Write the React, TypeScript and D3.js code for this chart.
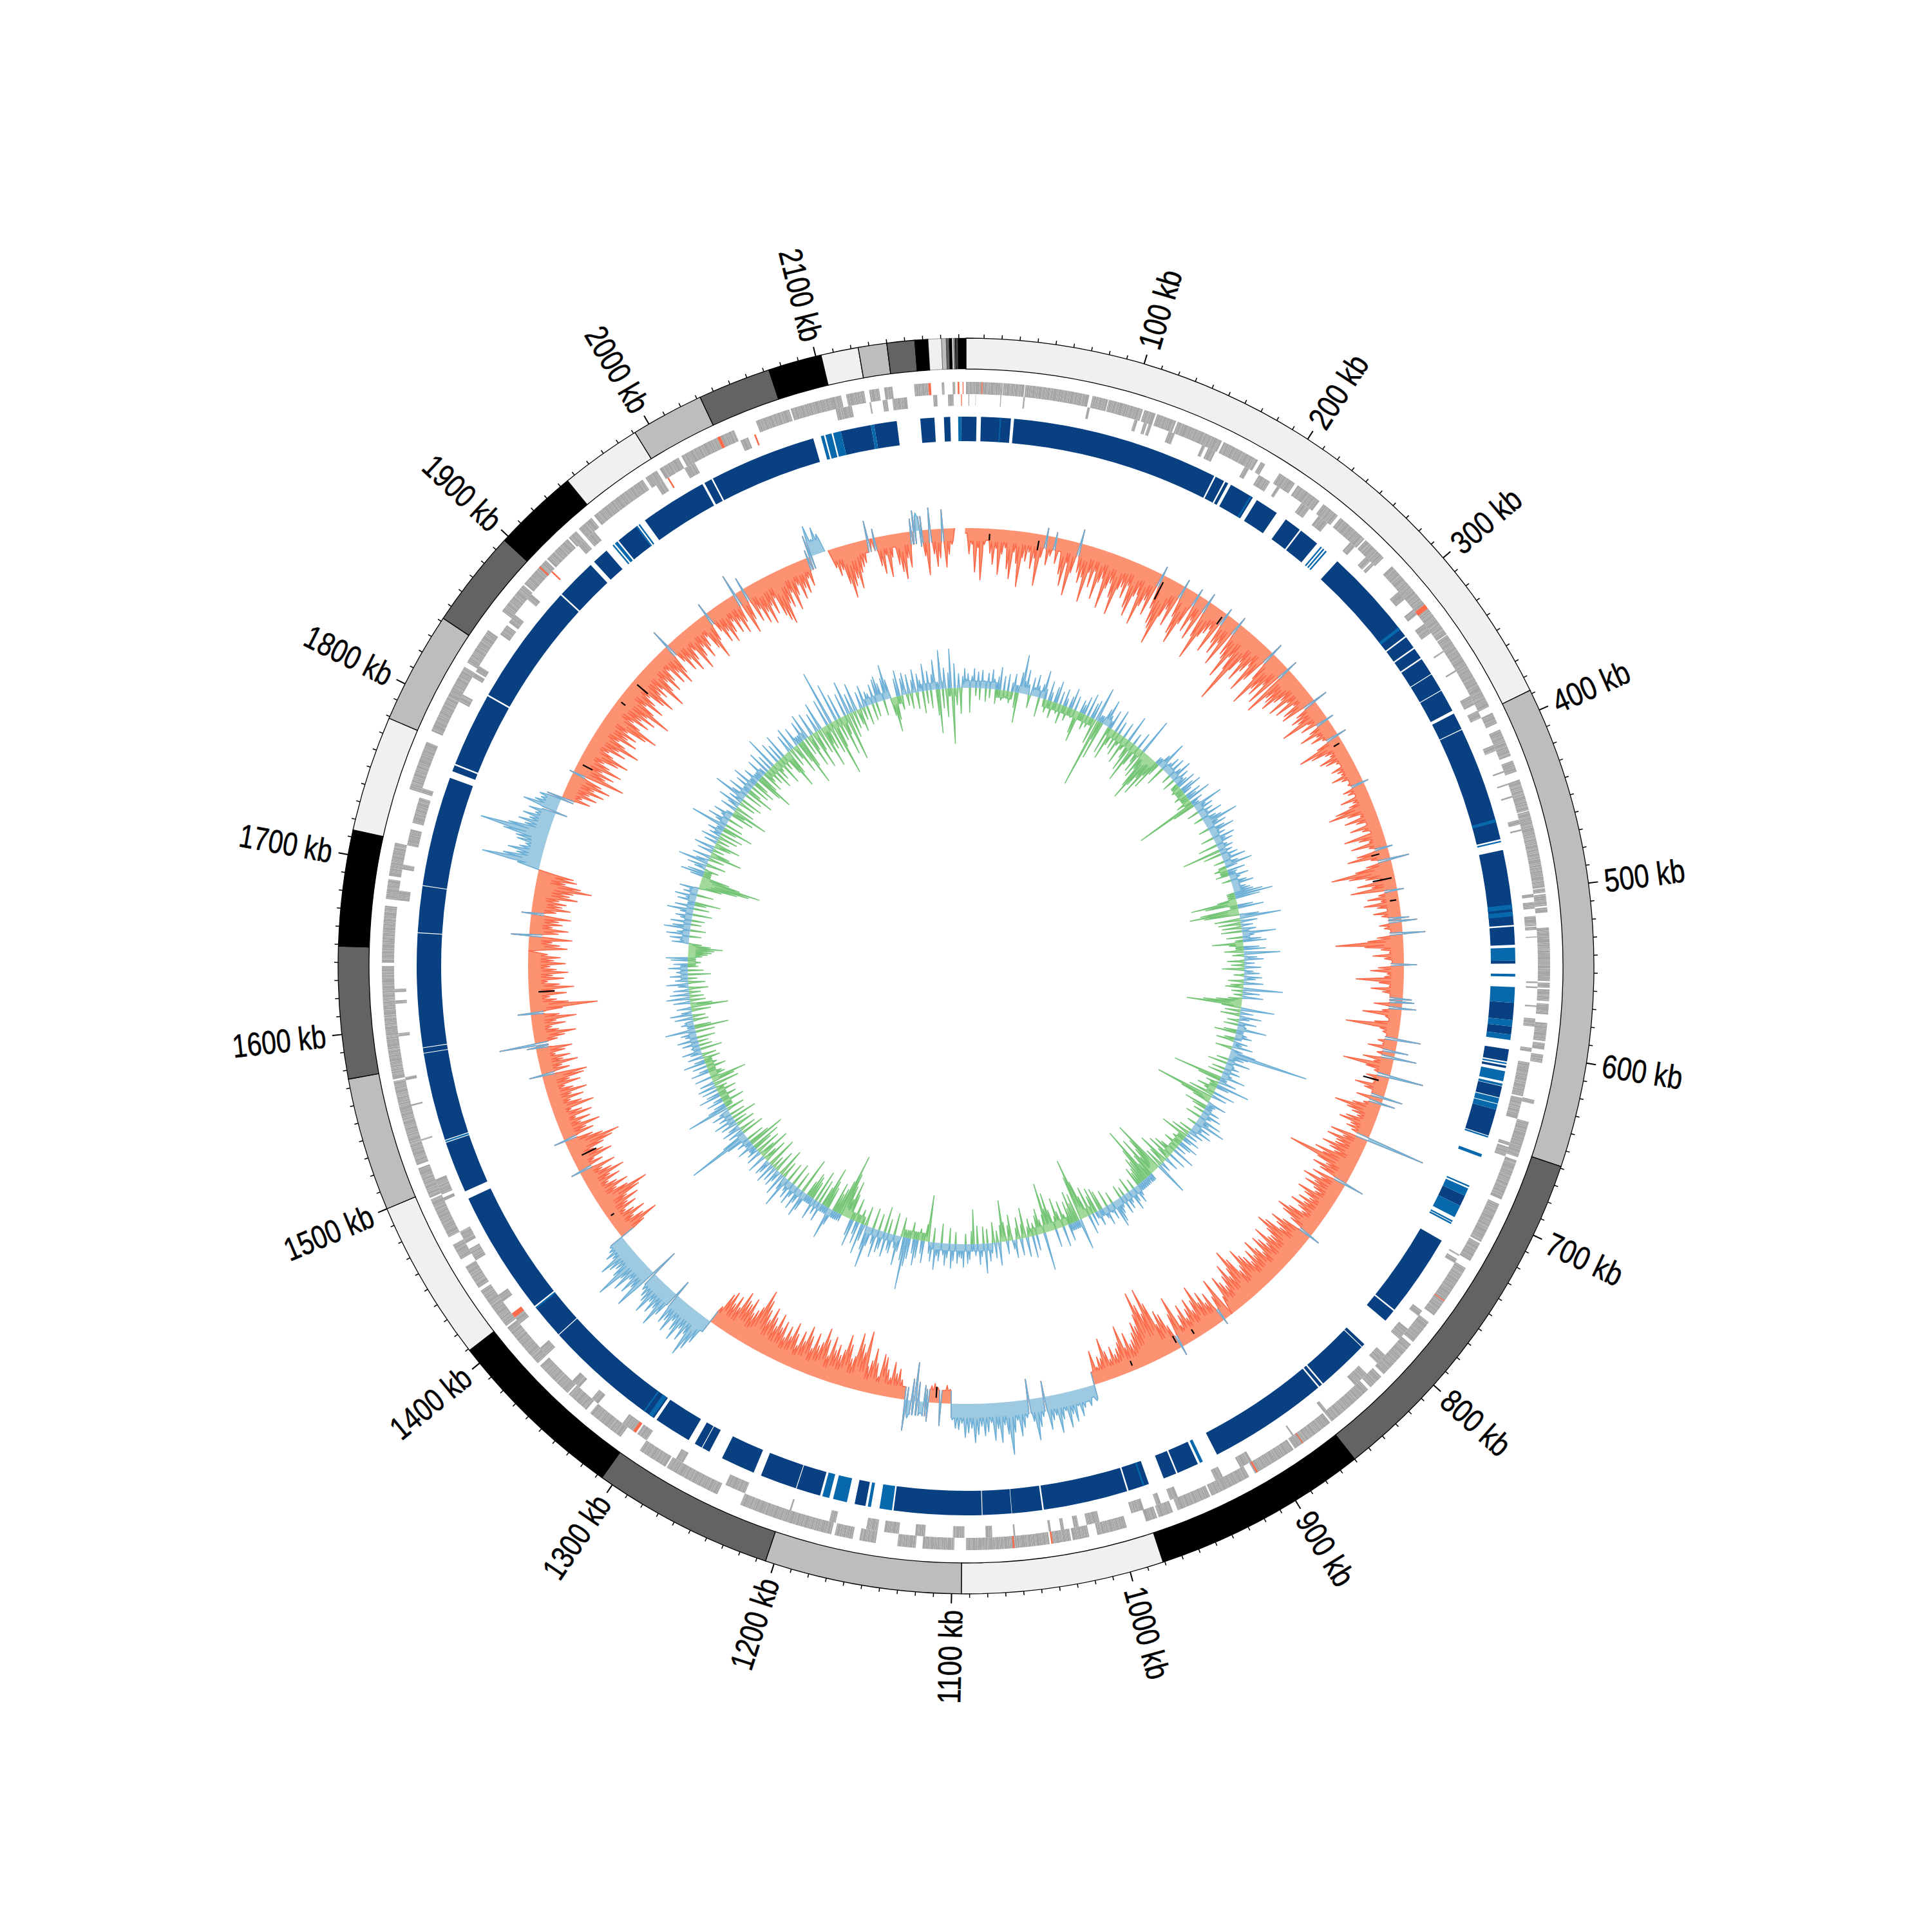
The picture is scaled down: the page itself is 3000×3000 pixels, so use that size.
import React from "react";
import * as d3 from "d3";

const GENOME_KB = 2184;
const contigEnds = [388,659,860,981,1094.6,1205,1307,1409,1500,1575,1649,1714,1779,1842,1897,1945,1991,2032,2073,2103,2124,2140,2155.6,2163,2170.4,2173,2174.6,2176.2,2177.1,2177.7,2178.2,2178.7,2179,2179.2,2179.5,2184];
const contigColors = ["#f0f0f0","#bdbdbd","#636363","#000000"];

const genesOuter: [number,number][] = [[0,9.3],[9.9,22],[22.3,35],[35.5,74],[76,85.5],[86,107],[108,115],[116,128],[129,157.7],[159,182],[184,187],[197,208],[210,226],[229,240],[242,261],[262,277],[284,310],[310,314],[317,336],[336.5,386],[390,397],[401,418],[421,428],[433,452],[452.5,499],[499.5,502],[503,510],[511,514],[523,555],[556,559],[560,567],[568.5,575],[580,591],[592,596],[599,604],[626.5,629],[640,650],[650,662],[664,689],[692,717],[718,730],[735,769],[774,789],[791,815],[817,826],[828,857],[858,884],[885,912],[916,941],[942,963],[966,975],[976,983],[995,1013],[1018,1028],[1029,1040],[1042,1092],[1099,1118],[1122,1133],[1146,1156],[1160,1171],[1173,1230],[1245,1279],[1280,1298],[1312,1335],[1338,1352],[1353,1376],[1378,1406],[1407,1426],[1426,1433],[1435,1450],[1455,1465],[1470,1495],[1496,1515],[1517,1569],[1570,1638],[1640,1674],[1678,1690],[1692,1698],[1698,1712],[1745,1775],[1782,1786],[1785,1805],[1805,1825],[1828,1851],[1865,1885],[1886,1905],[1906,1923],[1924,1930],[1932,1942],[1944,1980],[1982,1990],[1992,2005],[2007,2031],[2033,2042],[2056,2077],[2078,2103],[2103,2109],[2112,2123],[2126,2132],[2135,2140],[2153,2161.5],[2169.5,2171],[2176,2177.5]];
const genesInner: [number,number][] = [[1.5,2],[5.8,6],[21,21.5],[35,36],[74.5,76],[104,106],[110,112],[113,115],[126,130],[148,150],[152,157],[177,180],[187,195],[200,202],[218,224],[231,238],[256,260],[269,273],[274,276],[298,304],[312,316],[323,330],[343,344],[357,358],[375,381],[385,390],[408,412],[425,426],[433,434],[441,442],[456,459],[462,463],[502,504],[507,511],[515.5,521.5],[522,524],[528,528.6],[555.5,556.5],[558.5,559.5],[570,571],[578,583],[596,598.5],[605,626],[627,640],[655,657],[658,664],[730,731],[733,736],[771,775],[785,793],[806,813],[822,832],[855,857],[880,881],[910,918],[930,935],[960,965],[971,974],[982,990],[1010,1018],[1023,1026],[1032,1034],[1040,1041.5],[1062,1063],[1076,1080],[1093,1100],[1117,1123],[1133,1142],[1146,1152],[1152,1153],[1172,1176],[1200,1201],[1230,1243],[1272,1277],[1298,1305],[1308,1316],[1335,1340],[1350,1356],[1378,1384],[1403,1410],[1420,1425],[1450,1458],[1462,1470],[1491,1493],[1495,1505],[1530,1531],[1552,1553],[1568,1570],[1595,1597],[1615,1617],[1622,1624],[1678,1684],[1697,1700],[1712,1722],[1726,1740],[1740,1742],[1745,1748],[1805,1810],[1822,1825],[1826,1830],[1853,1860],[1862,1868],[1880,1884],[1925,1930],[1932,1938],[1985,1990],[2005,2012],[2043,2048],[2104,2107],[2107,2114],[2125,2126],[2133,2136],[2139,2148],[2164,2166.5],[2173,2176.5]];
const redOuter: [number,number][] = [[9.3,9.9],[314,317],[758,758.6],[878,878.6],[910,911],[1040,1041],[1063,1064],[1899,1900],[2031,2033],[2161.5,2163],[2179,2180],[2182,2182.5]];
const redInner: [number,number][] = [[1306,1308],[1408,1411],[1902,1903],[1993,1994],[2052,2053],[2181,2181.5]];
const geneLengths = [1.3,0.8,1.6,0.9,1.1,2.1,0.7,1.4,1.0,1.8,0.6,1.2,2.4,0.9,1.5];

const ringDark: [number,number][] = [[0,6.7],[9.5,28.5],[30.5,163],[164,170],[171,173],[175,191],[194,209],[216,227],[228,241],[258,322],[323,331],[332,339],[340,351],[351.5,363],[363.5,378],[380,391],[391.5,465],[472,520],[521,532.6],[542.6,544.5],[569.3,580.3],[584.4,589.5],[599,606.7],[609.5,611],[622.8,630],[638,655],[696,703],[728,781],[782,790],[810,812],[812.5,846],[847,849],[850,927],[940.5,954.5],[955.5,964],[974,987.5],[988.5,1042.5],[1043.5,1062.8],[1063.1,1081.5],[1082,1138],[1156,1163],[1185.5,1201],[1201.5,1225],[1230,1252],[1261,1266],[1266.5,1271.5],[1276,1300],[1302,1382],[1382.5,1405],[1406,1486],[1491,1524],[1526,1582.3],[1582.8,1585.8],[1586.3,1658.8],[1659.3,1688.8],[1689.3,1759.6],[1764,1768],[1769,1816.5],[1817.5,1895.5],[1896.5,1922.5],[1925.5,1936],[1946,1961],[1967,2010],[2011.5,2016.5],[2017.5,2086],[2104,2123.5],[2125.5,2140],[2155,2164],[2170,2174],[2181,2184]];
const ringLight: [number,number][] = [[21.5,22.2],[189,190],[244,245],[246,247],[248,249],[315,317],[452,454],[466,467],[507,510],[511.5,514.5],[534.4,542.6],[551,552.7],[559.3,569.3],[580.3,584.4],[589.5,593],[607.5,608.5],[613,619.5],[621,622.5],[630.5,634],[634.5,638],[655.5,656.5],[667.5,669.5],[689,690],[691,696],[703,711],[713.5,714.5],[715,716],[937,939],[977,978],[1139,1147],[1152.5,1154.5],[1168,1177],[1179.5,1184],[1303,1306],[1309,1310],[1404,1405],[1524.5,1525.5],[1941,1942],[1943,1945],[1960,1961],[1962,1963],[2091,2093],[2094,2098],[2099,2104],[2123.5,2125.5],[2179,2181]];

// Skew track, one row per 100 kb
const skewRows: number[][] = [
[-8,-40,-25,-68,-30,-80,-25,-18,-38,-55,-30,-70,-38,-28,-60,-75,-33,-50,-86,-40,-45,-30,-55,-38,-80,-35,12,-45,-30,8,-40,-20,-55,-72,-35,-85,-48,22,-45,-60],
[-50,-88,-40,-62,-35,-78,-50,-42,-88,-55,-45,-66,-92,-50,-44,-60,-38,-72,-84,-50,-45,-92,-60,-48,-70,14,-55,-78,-85,-108,-60,-45,-70,12,-50,-76,-90,-55,10,-62],
[-40,-70,14,-60,-96,-55,-45,-35,-72,10,-50,-66,-44,-80,12,-55,-60,-90,-50,-70,-124,-65,-45,-75,-55,-40,-84,-60,18,-50,-95,-62,-70,-45,-78,16,-88,-55,-60,-70],
[-50,-40,-66,-35,-60,-30,-52,-58,22,-38,-50,-42,-73,-30,-45,10,-36,-55,-30,-42,-25,14,-40,-73,-55,-34,-28,-48,-40,-25,-20,-38,-30,-26,-44,-30,-20,-24,8,-36],
[-30,-20,-46,-28,-36,-60,-73,-44,-25,-52,-35,-20,-48,-30,-18,-62,-40,-25,-55,-28,8,-50,-66,-30,29,-40,-58,-97,-70,-45,-25,-60,-38,-72,10,-30,-48,-28,-55,-35],
[-20,-42,-30,12,24,-35,-28,-18,35,-40,-55,-105,-60,-35,-22,-48,-30,-18,20,-40,-52,-26,-30,-74,-38,-22,-50,-32,-20,14,18,-44,22,-30,-60,-24,-18,-40,-84,-30],
[-25,-18,36,-30,-22,-44,20,-28,35,-48,-30,-77,-40,-26,53,-36,-30,-22,-50,-34,-20,30,-42,21,-28,-44,-71,-50,-40,-30,-46,-55,-35,-40,-30,92,-60,-38,-62,-45],
[-45,-64,-50,-40,-70,-55,-109,-60,-42,-62,-48,30,-55,-38,-66,-44,-58,-40,-35,-62,-48,-36,-52,-40,-60,-44,-34,-55,-72,-60,-42,16,-50,-68,-55,-45,-70,-81,-60,-48],
[-50,-72,-45,-58,-66,-40,-52,-70,-46,-60,-42,-55,-62,-76,-50,-44,-70,-88,-60,-48,-72,-55,-40,-50,-62,-30,0,-67,-40,8,-52,-38,-60,-45,-76,-55,-40,-62,-48,-35],
[-60,-45,-30,-81,-55,14,-40,-62,-70,-50,-88,-114,-75,-92,-114,-80,-62,-70,-55,-45,-40,-60,-38,-75,-50,-42,-34,-48,-30,-44,-66,-36,-40,-25,-52,-20,25,18,30,22],
[30,42,25,48,35,55,28,40,60,32,38,52,-25,30,45,65,35,-32,28,42,55,30,48,82,50,35,62,40,58,30,44,50,35,48,60,38,45,52,30,40],
[38,25,-22,-28,-20,35,-24,-30,-26,30,-26,18,-30,-60,-34,28,48,-20,-30,-46,-38,-55,-30,-42,-60,-64,-28,-48,-70,-50,-40,-94,-60,-72,-88,-50,-45,-66,-80,-55],
[-45,-60,-50,-70,-38,-62,-79,-55,-48,-66,-40,-58,-72,-46,-60,-35,-52,-68,-44,-58,-38,-62,-50,-70,-48,-60,-74,-52,-66,-80,-94,-64,-55,-48,-70,-58,-62,-73,-44,-60],
[-45,-62,-55,-30,20,45,60,74,40,55,38,62,48,35,58,42,50,-26,44,67,40,52,36,60,44,38,30,-44,72,40,55,34,60,42,81,48,38,46,58,32],
[40,30,25,-45,-71,-50,-35,-58,-42,-30,-52,-40,-62,-45,-70,-86,-55,-38,-60,-44,-32,-54,-40,-66,-48,-34,-58,14,-42,-30,-62,-50,-36,-55,-72,-85,-60,-45,17,-50],
[-40,-64,-35,-52,-30,-58,-44,-28,-66,-48,-32,-54,-36,-62,-42,-30,-56,-40,-64,-70,20,-45,-34,-60,-38,-50,-28,-44,-56,14,56,-36,-48,-66,-40,-30,-52,-38,-70,-44],
[20,-50,-105,-60,-42,-32,-58,-40,-70,-48,-30,-55,-38,-62,-44,-34,-58,-40,-50,-30,0,-60,-48,-36,-67,28,-45,-60,-35,-50,-44,-62,15,-38,-60,-46,-52,-40,-68,-55],
[-60,-88,-70,-45,-62,-56,0,35,92,60,40,55,38,30,45,48,70,108,65,40,52,36,48,30,42,-18,55,38,30,34,24,-45,-30,-52,-38,-60,-42,-66,-50,6],
[-83,-50,-62,-40,-70,-48,-36,-58,-72,-44,-34,-60,-46,-78,-52,-38,-66,-48,-60,-42,-72,-88,-55,-40,-64,-48,-70,-52,-90,-58,-40,-68,-50,-36,-60,-74,-46,-55,-42,-80],
[-55,-40,-62,-46,-30,-58,-42,-66,-50,29,-36,-56,-40,-64,-48,-34,-71,-52,-38,-60,-44,-30,-54,-74,-46,18,-36,-58,-42,-64,-50,-34,-56,-40,-62,-46,33,-70,-50,20],
[-58,-40,-66,-50,-72,-44,-60,-36,-68,-78,-85,-54,-62,-40,-70,-48,-34,-58,-42,-52,-30,-44,12,34,48,25,42,30,0,0,-30,-44,-36,-60,-83,-66,-55,-72,-48,-40],
[-35,-20,29,0,14,-45,-58,-30,-65,-35,-20,-48,-60,-72,-40,-55,20,32,28,-25,-40,-70,34,-38,-58,-45,30,-60,-40,-25,0,0,0,0],
];
const skewPosBands: [number,number][] = [[988,1104],[1124,1140],[1309,1407],[1713,1775],[2058,2072],[2143,2150]];

// GC track, one row per 100 kb
const gcRows: number[][] = [
[14,22,-38,18,30,-12,25,-18,28,12,-20,24,-14,30,16,-22,20,35,-16,22,-10,26,-18,14,28,-24,-47,32,60,20,38,16,-20,28,14,34,18,-30,22,44],
[16,-20,30,14,-26,24,34,-16,20,-30,26,12,-22,18,32,-14,22,-36,-49,20,14,28,-24,36,-18,24,30,-40,54,-109,-30,-60,26,42,18,-44,30,-51,-26,36],
[-28,20,-36,-18,24,-44,-20,42,-30,-50,18,-65,-35,26,-25,-40,57,-46,-30,-60,-81,-55,-38,-66,-28,-48,-20,22,47,-31,16,28,12,32,-14,20,36,-20,26,14],
[18,30,-16,22,34,14,-20,26,16,38,-24,20,-97,-36,48,18,28,-18,24,14,36,-14,22,30,55,20,32,-16,26,40,14,22,-20,34,18,28,-30,16,24,-60],
[20,-28,26,14,36,-16,22,43,18,-20,28,14,-21,30,16,-14,24,34,12,20,26,30,44,59,38,-30,-72,-50,24,40,-60,-77,-55,30,64,-40,26,-35,18,-30],
[22,-32,52,18,-25,28,36,-48,-22,24,34,-30,56,-18,20,30,-26,16,-20,26,-34,14,24,-16,28,18,-24,30,-20,-28,61,-18,26,-14,32,-22,-40,-60,-85,-30],
[52,-24,20,-30,34,16,-18,28,-22,14,46,-20,-34,18,26,-16,-28,22,14,32,-26,18,40,124,30,24,-18,36,-30,14,22,-20,26,-24,16,38,-77,-36,28,-20],
[52,20,-30,-18,34,-40,24,-92,-50,-28,30,14,-36,-22,26,-16,32,18,-24,38,20,49,-14,28,16,34,-20,24,-30,18,-44,26,14,-18,30,20,-26,16,-12,36],
[-24,-34,28,-40,-20,22,-50,-28,16,-30,52,-85,-60,-44,-30,-66,-38,-24,-89,-55,-35,-42,-26,-20,-30,18,28,-16,22,34,-24,18,26,-14,30,-20,16,24,36,43],
[-18,26,14,-26,30,18,-30,-36,24,-40,-28,20,-46,30,-34,-60,-97,-70,48,-44,-30,-50,-24,-36,26,-18,-40,32,-26,-48,-20,28,-32,-60,-36,-77,-28,59,-22,-40],
[-30,24,-20,34,-28,-16,30,-47,-22,26,-34,-18,28,14,-40,-24,20,-30,-64,-26,36,-18,24,-32,16,28,-22,46,-26,20,32,-28,18,-53,-20,24,30,-16,36,22],
[20,30,-18,26,38,-24,22,34,18,-30,28,20,42,-22,30,18,-72,-26,34,20,-18,28,40,22,-26,32,44,81,36,-30,24,46,20,-34,30,26,-22,38,-40,28],
[34,-26,44,24,-32,30,65,38,-30,26,48,-22,34,20,-36,42,26,-40,-60,-30,-50,-70,-99,-55,-40,-30,-46,26,50,-34,-44,-64,-30,30,-38,22,-50,34,-28,-36],
[-40,-24,30,42,-57,24,36,-28,20,34,-36,28,18,-30,50,22,-26,36,-44,18,28,-34,24,-20,32,-48,20,26,-38,-22,30,-50,-26,24,-40,18,-30,-46,28,-58],
[-34,22,-28,36,101,40,-36,24,-26,30,18,-30,26,-20,34,-40,22,-24,30,16,-28,66,30,18,-34,26,14,-26,34,20,-30,24,-18,28,-40,22,-36,-56,26,-24],
[-20,28,14,-30,22,-18,34,16,-26,24,-22,18,30,-34,14,-20,26,-16,32,-28,18,24,-30,47,-53,-26,20,14,-24,28,-20,34,16,-30,22,-58,-34,26,-24,36],
[-22,30,-18,24,-30,16,34,-26,20,-14,28,-35,18,-24,30,-16,22,-20,26,34,-22,-30,-36,-40,-53,-34,-20,26,14,30,-18,36,20,-24,41,28,-16,32,-20,18],
[26,-30,20,41,-24,30,-18,-40,28,16,34,-26,22,14,30,-36,-60,-78,-95,-62,-44,20,36,26,-22,18,30,-30,47,20,-24,28,-50,-30,24,-18,32,-26,-40,20],
[-20,28,-30,18,-36,24,-22,-48,57,-28,20,34,-24,16,30,-36,-20,-56,26,-30,18,36,-26,22,-34,52,24,-28,34,-44,-20,28,-30,38,-36,-22,26,-42,-60,-30],
[30,-34,-20,36,-28,24,-40,52,-30,-18,34,-44,26,-24,38,-36,-62,-40,28,-30,36,-22,-48,30,-34,-74,-46,32,-28,40,-52,-26,36,-60,-32,30,-40,44,-66,-30],
[-40,42,-50,86,-88,-44,60,-36,40,-62,-30,36,-74,53,-40,30,-28,44,-24,-36,26,-20,34,-30,22,18,-26,30,-22,36,40,28,-24,34,54,30,-28,-54,-36,28],
[40,-22,26,34,-18,30,-24,20,36,-26,28,18,-34,42,-20,30,-28,24,46,-40,-68,60,-30,32,-44,24,61,-86,38,-26,22,-40,18,30],
];
const gcPosBands: [number,number][] = [[0,40],[60,78],[85,100],[170,190],[262,300],[330,420],[430,455],[498,512],[620,640],[665,696],[730,770],[840,925],[945,960],[1060,1135],[1180,1215],[1255,1340],[1390,1420],[1430,1450],[1530,1570],[1620,1640],[1670,1735],[1810,1840],[1860,1905],[1960,1975],[2055,2090],[2130,2160]];
const gcNegBands: [number,number][] = [[40,60],[100,170],[190,262],[300,330],[420,430],[455,480],[515,530],[590,600],[700,715],[775,810],[925,945],[960,1010],[1145,1175],[1225,1255],[1455,1480],[1490,1520],[1640,1665],[1740,1760],[1905,1945],[2000,2030],[2090,2105],[2160,2175]];

// [kb, offset from, offset to]
const blackMarks: [number,number,number][] = [[19,-8,-18],[59,-10,-25],[165,-10,-40],[220,-8,-22],[359,-5,-15],[454,-15,-28],[475,-5,-35],[493,-4,-14],[640,-15,-40],[899,-8,-16],[915,-10,-22],[955,-8,-16],[1116,-8,-25],[1425,-6,-12],[1479,-15,-40],[1617,-15,-40],[1806,-8,-25],[1865,-6,-14],[1884,-8,-30]];

const STEP = 2.5;
const CX = 1500, CY = 1500;
const angle = d3.scaleLinear().domain([0, GENOME_KB]).range([0, 2 * Math.PI]);
const skewR = d3.scaleLinear().domain([-124, 108]).range([680 - 124, 680 + 108]);
const gcR = d3.scaleLinear().domain([-109, 124]).range([432 - 109, 432 + 124]);

type Pt = { kb: number; v: number };
const toPoints = (rows: number[][]): Pt[] =>
  rows.flatMap((row, k) => row.map((v, i) => ({ kb: k * 100 + i * STEP, v })));
const inBands = (bands: [number, number][], kb: number) => bands.some(([a, b]) => kb >= a && kb < b);

// every reading becomes a narrow tooth standing on the band seen at that place
function teeth(pts: Pt[], halfWidth: number, factor: number, level: (kb: number, v: number) => number | null): Pt[] {
  const out: Pt[] = [];
  for (const p of pts) {
    if (p.v === 0) { out.push(p); continue; }
    const lvl = level(p.kb, p.v);
    const same = lvl === null || Math.sign(lvl) === Math.sign(p.v);
    let base = p.v * factor;
    if (lvl !== null && !same) base = lvl;
    if (lvl !== null && same) base = Math.sign(p.v) * Math.min(Math.abs(p.v), Math.max(Math.abs(lvl), Math.abs(p.v) * factor));
    const w = Math.min(halfWidth * 1.5, halfWidth * (0.7 + Math.abs(p.v) / 130));
    out.push({ kb: p.kb - w, v: base }, { kb: p.kb, v: p.v }, { kb: p.kb + w, v: base });
  }
  return out;
}

// runs of one sign; neighbours either keep their value or are cut at the centre line
function runs(pts: Pt[], test: (v: number) => boolean, cut: boolean): Pt[][] {
  const out: Pt[][] = [];
  const edge = (p: Pt | undefined) => (p ? [cut ? { kb: p.kb, v: 0 } : p] : []);
  let i = 0;
  while (i < pts.length) {
    if (test(pts[i].v)) {
      let j = i;
      while (j + 1 < pts.length && test(pts[j + 1].v)) j++;
      out.push([...edge(pts[i - 1]), ...pts.slice(i, j + 1), ...edge(pts[j + 1])]);
      i = j + 1;
    } else i++;
  }
  return out;
}

function Track({ pts, r, fillPos, linePos, fillNeg, lineNeg, sw, cut }: { pts: Pt[]; r: d3.ScaleLinear<number, number>; fillPos: string; linePos: string; fillNeg: string; lineNeg: string; sw: number; cut: boolean }) {
  const area = d3.areaRadial<Pt>().angle(d => angle(d.kb)).innerRadius(r(0)).outerRadius(d => r(d.v));
  const line = d3.lineRadial<Pt>().angle(d => angle(d.kb)).radius(d => r(d.v));
  const layer = (list: Pt[][], fill: string, stroke: string) =>
    list.map((run, i) => (
      <g key={i}>
        <path d={area(run) ?? ""} fill={fill} stroke="none" />
        <path d={line(run) ?? ""} fill="none" stroke={stroke} strokeWidth={sw} strokeLinejoin="round" />
      </g>
    ));
  return (
    <g>
      {layer(runs(pts, v => v < 0, cut), fillNeg, lineNeg)}
      {layer(runs(pts, v => v > 0, cut), fillPos, linePos)}
    </g>
  );
}

function Band({ items, r0, r1, fill }: { items: [number, number][]; r0: number; r1: number; fill: string }) {
  const arc = d3.arc<[number, number]>().innerRadius(r0).outerRadius(r1).startAngle(d => angle(d[0])).endAngle(d => angle(d[1]));
  return <g>{items.map((d, i) => <path key={i} d={arc(d) ?? ""} fill={fill} />)}</g>;
}

// a run of genes is cut into single genes, with a hairline between them
function splitGenes(items: [number, number][]): [number, number][] {
  const out: [number, number][] = [];
  let k = 0;
  for (const [a, b] of items) {
    let s = a;
    while (s < b) {
      const len = geneLengths[k++ % geneLengths.length];
      const e = Math.min(b, s + len);
      out.push([s, e - (e < b ? 0.05 : 0)]);
      s = e;
    }
  }
  return out;
}

export default function App() {
  const contigStarts = [0, ...contigEnds.slice(0, -1)];
  const contigArc = d3.arc<[number, number]>().innerRadius(927).outerRadius(975).startAngle(d => angle(d[0])).endAngle(d => angle(d[1]));
  const ticks = d3.range(10, GENOME_KB, 10);
  const skewPts = teeth(toPoints(skewRows), 1.0, 0.5, kb => (inBands(skewPosBands, kb) ? 22 : -20));
  const gcPts = teeth(toPoints(gcRows), 0.9, 0.3, kb => (inBands(gcPosBands, kb) ? 11 : inBands(gcNegBands, kb) ? -12 : null));
  return (
    <svg width={3000} height={3000} viewBox="0 0 3000 3000" style={{ position: "absolute", left: 0, top: 0, background: "#fff" }}>
      <g transform={`translate(${CX},${CY})`}>
        {contigEnds.map((end, i) => (
          <path key={i} d={contigArc([contigStarts[i], end]) ?? ""} fill={contigColors[i % 4]} stroke="#000" strokeWidth={i > 23 ? 0.4 : 1.3} />
        ))}
        {ticks.map(t => {
          const major = t % 100 === 0;
          const [x0, y0] = d3.pointRadial(angle(t), 975);
          const [x1, y1] = d3.pointRadial(angle(t), major ? 990 : 981);
          return <line key={t} x1={x0} y1={y0} x2={x1} y2={y1} stroke="#000" strokeWidth={major ? 2 : 1.5} />;
        })}
        {ticks.filter(t => t % 100 === 0).map(t => {
          const deg = (angle(t) * 180) / Math.PI;
          const right = deg < 180;
          const [x, y] = d3.pointRadial(angle(t), 1000);
          return (
            <text key={t} x={x} y={y} transform={`rotate(${right ? deg - 90 : deg - 270} ${x} ${y})`}
              textAnchor={right ? "start" : "end"} dominantBaseline="central"
              fontFamily="'Liberation Sans Narrow','Liberation Sans',sans-serif" fontSize={51} fill="#000" stroke="#000" strokeWidth={0.5}
              textLength={t >= 1000 ? 146 : 126} lengthAdjust="spacingAndGlyphs">{`${t} kb`}</text>
          );
        })}
        <Band items={splitGenes(genesOuter)} r0={888} r1={907} fill="#a6a6a6" />
        <Band items={splitGenes(genesInner)} r0={870} r1={888} fill="#a6a6a6" />
        <Band items={redOuter} r0={888} r1={907} fill="#fb6a4a" />
        <Band items={redInner} r0={870} r1={888} fill="#fb6a4a" />
        <Band items={ringDark} r0={815} r1={853} fill="#084081" />
        <Band items={ringLight} r0={815} r1={853} fill="#0868ac" />
        <Track pts={skewPts} r={skewR} fillPos="#9ecae1" linePos="#6baed6" fillNeg="#fc9272" lineNeg="#fb6a4a" sw={1.6} cut={false} />
        {blackMarks.map(([kb, a, b], i) => {
          const [x0, y0] = d3.pointRadial(angle(kb), skewR(a));
          const [x1, y1] = d3.pointRadial(angle(kb), skewR(b));
          return <line key={i} x1={x0} y1={y0} x2={x1} y2={y1} stroke="#000" strokeWidth={2.2} />;
        })}
        <Track pts={gcPts} r={gcR} fillPos="#9ecae1" linePos="#6baed6" fillNeg="#a1d99b" lineNeg="#74c476" sw={1.5} cut={true} />
      </g>
    </svg>
  );
}
